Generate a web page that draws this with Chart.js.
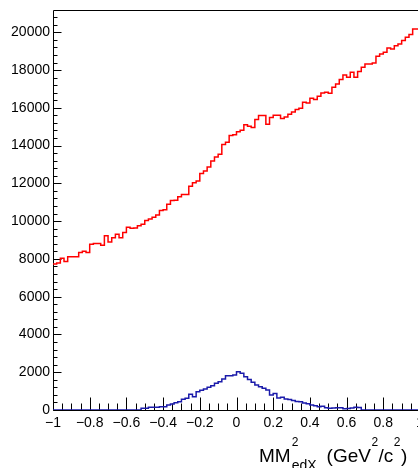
<!DOCTYPE html>
<html>
<head>
<meta charset="utf-8">
<script src="https://cdn.jsdelivr.net/npm/chart.js@4.4.1/dist/chart.umd.min.js"></script>
<style>
  html, body { margin: 0; padding: 0; background: #fff; overflow: hidden; width: 418px; height: 468px; }
  canvas { display: block; }
</style>
</head>
<body>
<canvas id="c" width="422" height="468" style="width:422px;height:468px"></canvas>
<script>
// Histogram binning: 100 bins from -1 to 1
const binLow = -1;
const binWidth = 0.02;

// Red histogram contents (bin by bin)
const redCounts = [
  7690, 7730, 7780, 8040, 7860, 8110, 8110, 8120, 8340, 8400,
  8340, 8770, 8820, 8820, 8730, 9220, 8900, 9120, 9310, 9120,
  9400, 9670, 9630, 9640, 9750, 9840, 10040, 10110, 10210, 10320,
  10560, 10600, 10900, 11090, 11110, 11290, 11410, 11410, 11850, 12030,
  12120, 12520, 12660, 12870, 13190, 13400, 13540, 14060, 14180, 14530,
  14580, 14730, 14810, 15110, 15030, 14960, 15380, 15590, 15590, 15130,
  15490, 15610, 15610, 15430, 15520, 15660, 15780, 15910, 15980, 16300,
  16250, 16510, 16440, 16610, 16790, 16830, 16770, 17090, 17260, 17500,
  17740, 17620, 17880, 17620, 17920, 18150, 18320, 18320, 18380, 18730,
  18850, 18940, 19170, 19110, 19290, 19380, 19560, 19740, 19880, 20170
];

// Blue histogram contents (bin by bin)
const blueCounts = [
  0, 0, 0, 0, 0, 0, 0, 0, 0, 0,
  0, 0, 0, 0, 0, 0, 0, 0, 0, 0,
  0, 0, 0, 0, 0, 90, 90, 140, 140, 140,
  175, 175, 265, 317, 390, 440, 565, 617, 830, 705,
  970, 1040, 1110, 1200, 1290, 1410, 1500, 1640, 1820, 1820,
  1850, 2030, 1940, 1760, 1620, 1470, 1320, 1230, 1150, 1060,
  790, 880, 640, 680, 580, 550, 500, 450, 440, 370,
  325, 262, 230, 175, 200, 120, 90, 110, 125, 125,
  60, 80, 100, 140, 130, 0, 0, 0, 0, 0,
  0, 0, 0, 0, 0, 0, 0, 0, 0, 0
];

// Axis tick labels
const xTicks = [-1, -0.8, -0.6, -0.4, -0.2, 0, 0.2, 0.4, 0.6, 0.8, 1];
const yTicks = [0, 2000, 4000, 6000, 8000, 10000, 12000, 14000, 16000, 18000, 20000];
const xRange = [-1, 1];
const yRange = [0, 21180];

function toSteps(counts) {
  const pts = counts.map((v, i) => ({ x: binLow + i * binWidth, y: v }));
  pts.push({ x: binLow + counts.length * binWidth, y: counts[counts.length - 1] });
  return pts;
}
function fmt(v) {
  return v < 0 ? '\u2212' + String(Math.abs(v)) : String(v);
}

const FONT = '"Liberation Sans", Arial, Helvetica, sans-serif';
Chart.defaults.font.family = FONT;

const rootFrame = {
  id: 'rootFrame',
  beforeDatasetsDraw(chart) {
    const { ctx, chartArea: a, scales: { x, y } } = chart;
    const L = Math.round(a.left) + 0.5, T = Math.round(a.top) + 0.5;
    const R = Math.round(a.right) + 0.5, B = Math.round(a.bottom) + 0.5;
    ctx.save();
    ctx.strokeStyle = '#000';
    ctx.lineWidth = 1;
    ctx.beginPath();
    ctx.moveTo(L, B); ctx.lineTo(L, T); ctx.lineTo(R, T); ctx.lineTo(R, B); ctx.lineTo(L, B);
    for (let k = 0; k < xTicks.length; k++) {
      const px = Math.round(x.getPixelForValue(xTicks[k])) + 0.5;
      ctx.moveTo(px, B); ctx.lineTo(px, B - 13);
      if (k < xTicks.length - 1) {
        for (let j = 1; j < 4; j++) {
          const v = xTicks[k] + (xTicks[k + 1] - xTicks[k]) * j / 4;
          const mx = Math.round(x.getPixelForValue(v)) + 0.5;
          ctx.moveTo(mx, B); ctx.lineTo(mx, B - 7);
        }
      }
    }
    for (let k = 0; k < yTicks.length; k++) {
      const py = Math.round(y.getPixelForValue(yTicks[k])) + 0.5;
      ctx.moveTo(L, py); ctx.lineTo(L + 8, py);
      const next = k < yTicks.length - 1 ? yTicks[k + 1] : yTicks[k] + (yTicks[1] - yTicks[0]);
      for (let j = 1; j < 5; j++) {
        const v = yTicks[k] + (next - yTicks[k]) * j / 5;
        if (v > y.max) break;
        const my = Math.round(y.getPixelForValue(v)) + 0.5;
        ctx.moveTo(L, my); ctx.lineTo(L + 4, my);
      }
    }
    ctx.stroke();
    ctx.restore();
  }
};

const axisTitle = {
  id: 'axisTitle',
  afterDraw(chart) {
    const ctx = chart.ctx;
    ctx.save();
    ctx.fillStyle = '#000';
    ctx.textBaseline = 'alphabetic';
    ctx.textAlign = 'left';
    const big = '19px ' + FONT, sup = '12px ' + FONT, sub = '14px ' + FONT;
    const base = 461.5, supBase = 446, subBase = 470;
    let xp = 259;
    ctx.font = big; ctx.fillText('MM', xp, base); xp += ctx.measureText('MM').width + 1;
    ctx.font = sup; ctx.fillText('2', xp, supBase);
    ctx.font = sub; ctx.fillText('edX', xp, subBase);
    xp += ctx.measureText('edX').width + 10;
    ctx.font = big; ctx.fillText('(GeV', xp, base); xp += ctx.measureText('(GeV').width + 0.5;
    ctx.font = sup; ctx.fillText('2', xp, supBase); xp += ctx.measureText('2').width + 0.5;
    ctx.font = big; ctx.fillText('/c', xp, base); xp += ctx.measureText('/c').width + 0.5;
    ctx.font = sup; ctx.fillText('2', xp, supBase); xp += ctx.measureText('2').width + 0.5;
    ctx.font = big; ctx.fillText(')', xp, base);
    ctx.restore();
  }
};

new Chart(document.getElementById('c'), {
  type: 'line',
  data: {
    datasets: [
      { data: toSteps(redCounts), borderColor: '#ff0000', borderWidth: 1.5, pointRadius: 0, stepped: 'after', fill: false },
      { data: toSteps(blueCounts), borderColor: '#1a1aaa', borderWidth: 1.5, pointRadius: 0, stepped: 'after', fill: false }
    ]
  },
  options: {
    responsive: false,
    animation: false,
    devicePixelRatio: 1,
    layout: { padding: { top: 10, right: 2, left: 0, bottom: 0 } },
    plugins: { legend: { display: false }, tooltip: { enabled: false } },
    scales: {
      x: {
        type: 'linear', min: xRange[0], max: xRange[1],
        afterBuildTicks: s => { s.ticks = xTicks.map(v => ({ value: v })); },
        ticks: { callback: v => fmt(v), font: { size: 14 }, color: '#000', padding: 5, maxRotation: 0, autoSkip: false },
        grid: { display: false, drawTicks: false },
        border: { display: false },
        afterFit: s => { s.height = 58; s.paddingLeft = 0; s.paddingRight = 0; }
      },
      y: {
        type: 'linear', min: yRange[0], max: yRange[1],
        afterBuildTicks: s => { s.ticks = yTicks.map(v => ({ value: v })); },
        ticks: { callback: v => String(v), font: { size: 14 }, color: '#000', padding: 3, autoSkip: false },
        grid: { display: false, drawTicks: false },
        border: { display: false },
        afterFit: s => { s.width = 53; s.paddingTop = 0; s.paddingBottom = 0; }
      }
    }
  },
  plugins: [rootFrame, axisTitle]
});
</script>
</body>
</html>
